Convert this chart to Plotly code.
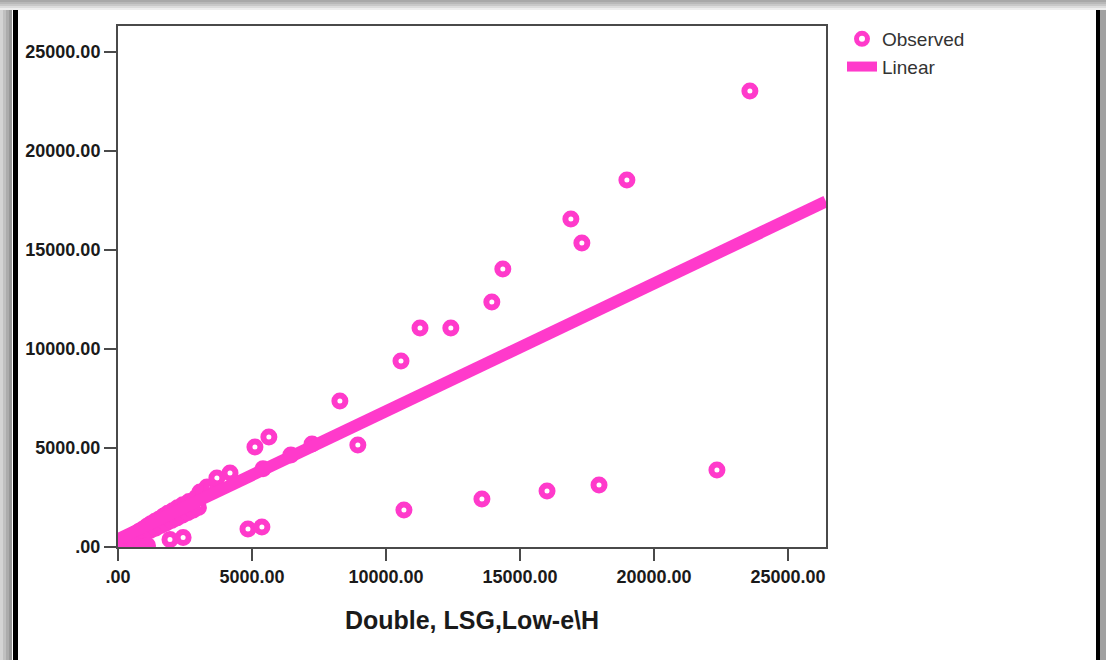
import plotly.graph_objects as go

# observed points (Double glazing, LSG, Low-e)
obs_x = [23580, 18990, 16900, 17310, 14360, 13950, 11270, 12420, 10560, 8280,
         8950, 22350, 17950, 16010, 13580, 10670, 5630, 5110, 7240, 6450,
         5410, 4180, 3690, 3320, 3060,
         80, 200, 280, 350, 420, 500, 560, 640, 700, 780, 850, 920, 1000,
         1080, 1150, 1230, 1300, 1380, 1460, 1540, 1620, 1700, 1780, 1860,
         1950, 2040, 2130, 2220, 2320, 2420, 2520, 2650, 2780, 2920, 3200, 3500,
         600, 800, 1000, 1200, 1400, 1600, 1800, 2000, 2200, 2400, 2600, 2800, 3000,
         300, 650, 900, 1100, 1940, 2430, 4850, 5370]
obs_y = [23030, 18530, 16560, 15350, 14040, 12370, 11060, 11060, 9390, 7370,
         5150, 3890, 3130, 2830, 2420, 1870, 5550, 5050, 5200, 4650,
         3950, 3740, 3480, 3030, 2780,
         150, 220, 380, 300, 460, 520, 480, 650, 600, 780, 760, 900, 870,
         1050, 1010, 1180, 1120, 1300, 1280, 1420, 1390, 1560, 1500, 1700,
         1650, 1830, 1760, 1980, 1900, 2130, 2050, 2300, 2250, 2500, 2700, 3000,
         440, 570, 700, 830, 950, 1080, 1210, 1340, 1470, 1600, 1730, 1860, 1990,
         60, 100, 30, 80, 380, 480, 910, 1010]

# fitted linear line end points
lin_x = [0, 26420]
lin_y = [400, 17450]

tick_vals = [0, 5000, 10000, 15000, 20000, 25000]
tick_text = ['.00', '5000.00', '10000.00', '15000.00', '20000.00', '25000.00']

pink = '#ff3acb'
W, H = 1106, 660
ml, mr, mt, mb = 118, 280, 26, 113
pw, ph = W - ml - mr, H - mt - mb


def px(x):
    return (x - ml) / pw


def py(y):
    return (H - mb - y) / ph


fig = go.Figure()
fig.add_trace(go.Scatter(x=obs_x, y=obs_y, mode='markers', name='Observed',
                         marker=dict(symbol='circle-open', size=11, color=pink,
                                     line=dict(width=6, color=pink))))
fig.add_trace(go.Scatter(x=lin_x, y=lin_y, mode='lines', name='Linear',
                         line=dict(color=pink, width=12)))

axis_common = dict(showline=True, mirror=True, linecolor='#4a4a4a', linewidth=2,
                   ticks='outside', ticklen=12, tickwidth=2, tickcolor='#4a4a4a',
                   showgrid=False, zeroline=False, tickvals=tick_vals, ticktext=tick_text,
                   tickfont=dict(family='Liberation Sans', size=18, color='#1a1a1a', weight='bold'))

fig.update_xaxes(range=[0, 26420], **axis_common,
                 title=dict(text='Double, LSG,Low-e\\H', standoff=26,
                            font=dict(family='Liberation Sans', size=25, color='#1a1a1a', weight='bold')))
fig.update_yaxes(range=[0, 26310], **axis_common)

# frame: soft shadow + black border like the pasted screenshot
shapes = []
for i, c in enumerate(['#d4d4d4', '#c0c0c0', '#acacac', '#989898']):
    shapes.append(dict(type='rect', xref='paper', yref='paper', x0=px(3 * i), x1=px(3 * i + 3),
                       y0=py(H), y1=py(0), fillcolor=c, line_width=0, layer='above'))
for i, c in enumerate(['#a8a8a8', '#b8b8b8', '#c8c8c8', '#dcdcdc', '#eeeeee']):
    shapes.append(dict(type='rect', xref='paper', yref='paper', x0=px(0), x1=px(W),
                       y0=py(2 * i + 2), y1=py(2 * i), fillcolor=c, line_width=0, layer='above'))
shapes.append(dict(type='rect', xref='paper', yref='paper', x0=px(13), x1=px(18),
                   y0=py(H), y1=py(10), fillcolor='black', line_width=0, layer='above'))
shapes.append(dict(type='rect', xref='paper', yref='paper', x0=px(1096), x1=px(1100),
                   y0=py(H), y1=py(10), fillcolor='black', line_width=0, layer='above'))
shapes.append(dict(type='rect', xref='paper', yref='paper', x0=px(1100), x1=px(W),
                   y0=py(H), y1=py(10), fillcolor='#a0a0a0', line_width=0, layer='above'))

fig.update_layout(
    width=W, height=H,
    margin=dict(l=ml, r=mr, t=mt, b=mb),
    paper_bgcolor='white', plot_bgcolor='white',
    shapes=shapes,
    legend=dict(x=px(842), y=py(20), xanchor='left', yanchor='top',
                font=dict(family='Liberation Sans', size=19, color='#333333'),
                bgcolor='rgba(0,0,0,0)', tracegroupgap=0),
)

fig.write_html('out.html', config={'displayModeBar': False},
               post_script="document.body.style.margin='0px';")
